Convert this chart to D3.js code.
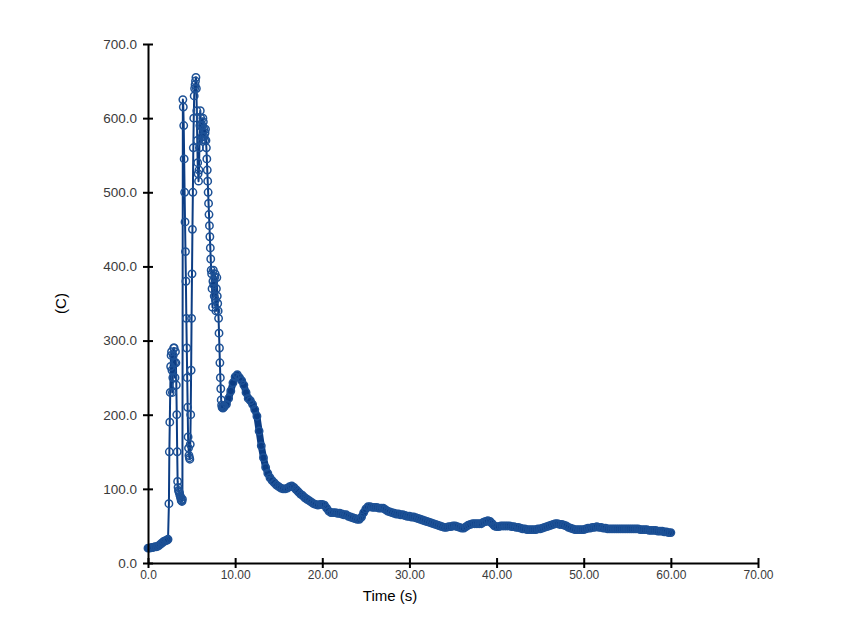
<!DOCTYPE html>
<html>
<head>
<meta charset="utf-8">
<script src="https://cdn.jsdelivr.net/npm/d3@7/dist/d3.min.js"></script>
<style>
  html, body { margin: 0; padding: 0; background: #ffffff; }
  svg { display: block; }
</style>
</head>
<body>
<svg id="chart" width="867" height="628"></svg>
<script>
// ---- Data (time in s, temperature in C) ----
const warmupReadings = [
  [0.0,20],[0.2,20],[0.4,21],[0.6,21],[0.8,22],[1.0,22],[1.2,23],[1.4,25],
  [1.6,27],[1.8,29],[2.0,30],[2.2,31],[2.3,32]
];
const flameReadings = [
  [2.4,80],[2.5,190],[2.6,265],[2.7,285],[2.8,230],[2.9,280],[3.0,290],[3.1,250],
  [3.2,270],[3.3,200],[3.4,110],[3.5,98],[3.6,95],[3.7,90],[3.8,85],[3.9,83],
  [4.0,625],[4.1,590],[4.2,500],[4.3,420],[4.4,330],[4.5,250],[4.6,170],[4.7,145],
  [4.8,140],[4.9,200],[5.0,330],[5.1,450],[5.2,560],[5.3,630],[5.4,645],[5.5,655],
  [5.6,610],[5.7,540],[5.8,515],[5.9,560],[6.0,610],[6.1,590],[6.2,575],[6.3,600],
  [6.4,585],[6.5,570],[6.6,585],[6.7,560],[6.8,530],[6.9,500],[7.0,470],[7.1,440],
  [7.2,410],[7.3,390],[7.4,345],[7.5,395],[7.6,360],[7.7,390],[7.8,340],[7.9,385],
  [8.0,350],[8.1,330],[8.2,290],[8.3,250],[8.4,220],[8.5,210],[8.6,209],[8.7,211]
];
const flameInterimReadings = [
  [2.45,150],[2.55,230],[2.65,280],[2.75,260],[2.85,250],[2.95,290],[3.05,270],[3.15,285],
  [3.25,240],[3.35,150],[3.45,102],[3.55,96],[3.65,92],[3.75,88],[3.85,84],[3.95,86],
  [4.05,615],[4.15,545],[4.25,460],[4.35,380],[4.45,290],[4.55,210],[4.65,155],[4.75,142],
  [4.85,160],[4.95,260],[5.05,390],[5.15,500],[5.25,600],[5.35,640],[5.45,650],[5.55,640],
  [5.65,570],[5.75,525],[5.85,530],[5.95,590],[6.05,600],[6.15,570],[6.25,590],[6.35,595],
  [6.45,575],[6.55,580],[6.65,570],[6.75,545],[6.85,515],[6.95,485],[7.05,455],[7.15,425],
  [7.25,395],[7.35,370],[7.45,380],[7.55,375],[7.65,385],[7.75,355],[7.85,370],[7.95,360],
  [8.05,340],[8.15,310],[8.25,270],[8.35,235],[8.45,213],[8.55,210],[8.65,210]
];
const decayReadings = [
  [8.75,211],[9.0,214],[9.25,222],[9.5,232],[9.75,243],[10.0,251],[10.25,254],[10.5,250],
  [10.75,246],[11.0,240],[11.25,230],[11.5,222],[11.75,219],[12.0,214],[12.25,207],[12.5,198],
  [12.75,178],[13.0,158],[13.25,142],[13.5,129],[13.75,121],[14.0,115],[14.25,111],[14.5,108],
  [14.75,105],[15.0,103],[15.25,101],[15.5,100],[15.75,100],[16.0,101],[16.25,103],[16.5,104],
  [16.75,102],[17.0,99],[17.25,96],[17.5,93],[17.75,91],[18.0,88],[18.25,86],[18.5,84],
  [18.75,82],[19.0,80],[19.25,79],[19.5,78],[19.75,79],[20.0,79],[20.25,78],[20.5,74],
  [20.75,70],[21.0,68],[21.25,68],[21.5,68],[21.75,67],[22.0,67],[22.25,66],[22.5,65],
  [22.75,65],[23.0,63],[23.25,62],[23.5,61],[23.75,60],[24.0,59],[24.25,59],[24.5,62],
  [24.75,68],[25.0,73],[25.25,76],[25.5,76],[25.75,75],[26.0,75],[26.25,75],[26.5,74],
  [26.75,74],[27.0,74],[27.25,72],[27.5,70],[27.75,69],[28.0,68],[28.25,67],[28.5,66],
  [28.75,66],[29.0,65],[29.25,65],[29.5,64],[29.75,63],[30.0,63],[30.25,62],[30.5,62],
  [30.75,61],[31.0,60],[31.25,59],[31.5,58],[31.75,57],[32.0,56],[32.25,55],[32.5,54],
  [32.75,53],[33.0,52],[33.25,51],[33.5,50],[33.75,49],[34.0,48],[34.25,48],[34.5,49],
  [34.75,49],[35.0,50],[35.25,50],[35.5,49],[35.75,48],[36.0,47],[36.25,47],[36.5,49],
  [36.75,51],[37.0,52],[37.25,53],[37.5,53],[37.75,53],[38.0,53],[38.25,53],[38.5,55],
  [38.75,56],[39.0,57],[39.25,56],[39.5,53],[39.75,50],[40.0,49],[40.25,49],[40.5,50],
  [40.75,50],[41.0,50],[41.25,50],[41.5,50],[41.75,49],[42.0,49],[42.25,48],[42.5,48],
  [42.75,47],[43.0,46],[43.25,46],[43.5,45],[43.75,45],[44.0,45],[44.25,45],[44.5,45],
  [44.75,46],[45.0,46],[45.25,47],[45.5,48],[45.75,49],[46.0,50],[46.25,51],[46.5,52],
  [46.75,53],[47.0,53],[47.25,52],[47.5,52],[47.75,51],[48.0,50],[48.25,48],[48.5,47],
  [48.75,46],[49.0,45],[49.25,45],[49.5,45],[49.75,45],[50.0,45],[50.25,46],[50.5,47],
  [50.75,47],[51.0,48],[51.25,48],[51.5,49],[51.75,48],[52.0,48],[52.25,47],[52.5,47],
  [52.75,46],[53.0,46],[53.25,46],[53.5,46],[53.75,46],[54.0,46],[54.25,46],[54.5,46],
  [54.75,46],[55.0,46],[55.25,46],[55.5,46],[55.75,46],[56.0,46],[56.25,46],[56.5,45],
  [56.75,45],[57.0,45],[57.25,45],[57.5,44],[57.75,44],[58.0,44],[58.25,44],[58.5,43],
  [58.75,43],[59.0,43],[59.25,42],[59.5,42],[59.75,41],[60.0,41]
];
const xTickValues = [0, 10, 20, 30, 40, 50, 60, 70];
const xTickLabels = ["0.0", "10.00", "20.00", "30.00", "40.00", "50.00", "60.00", "70.00"];
const yTickValues = [0, 100, 200, 300, 400, 500, 600, 700];
const yTickLabels = ["0.0", "100.0", "200.0", "300.0", "400.0", "500.0", "600.0", "700.0"];
const xTitle = "Time (s)";
const yTitle = "(C)";

const readings = d3.sort(
  warmupReadings.concat(flameReadings, flameInterimReadings, decayReadings),
  d => d[0]
);

// ---- Layout ----
const svg = d3.select("#chart");
const plot = { left: 148, right: 758, top: 44, bottom: 563 };

const x = d3.scaleLinear().domain([0, 70]).range([plot.left, plot.right]);
const y = d3.scaleLinear().domain([0, 700]).range([plot.bottom, plot.top]);

const font = "'Liberation Sans', Arial, sans-serif";
const lineBlue = "#0c3d84";
const markerBlue = "#1d5196";

// ---- Series ----
const lineGen = d3.line().x(d => x(d[0])).y(d => y(d[1]));

// densely sampled stretches render as a solid band in the reference
[warmupReadings, decayReadings].forEach(seg => {
  svg.append("path")
    .datum(seg)
    .attr("fill", "none")
    .attr("stroke", lineBlue)
    .attr("stroke-width", 7)
    .attr("stroke-linejoin", "round")
    .attr("stroke-linecap", "round")
    .attr("d", lineGen);
});

svg.append("path")
  .datum(readings)
  .attr("fill", "none")
  .attr("stroke", lineBlue)
  .attr("stroke-width", 2)
  .attr("stroke-linejoin", "round")
  .attr("d", lineGen);

svg.append("g")
  .selectAll("circle")
  .data(readings)
  .join("circle")
  .attr("cx", d => x(d[0]))
  .attr("cy", d => y(d[1]))
  .attr("r", 3.7)
  .attr("fill", "none")
  .attr("stroke", markerBlue)
  .attr("stroke-width", 1.5);

// ---- Axes ----
const xAxis = d3.axisBottom(x)
  .tickValues(xTickValues)
  .tickFormat((d, i) => xTickLabels[i])
  .tickSizeInner(5)
  .tickSizeOuter(0)
  .tickPadding(2);

const yAxis = d3.axisLeft(y)
  .tickValues(yTickValues)
  .tickFormat((d, i) => yTickLabels[i])
  .tickSizeInner(5)
  .tickSizeOuter(0)
  .tickPadding(6);

const gx = svg.append("g")
  .attr("transform", `translate(0,${plot.bottom})`)
  .call(xAxis);
gx.select(".domain").attr("stroke", "#000").attr("stroke-width", 2);
gx.selectAll(".tick line").attr("stroke", "#000").attr("stroke-width", 2)
  .attr("y1", -5).attr("y2", 5);
gx.selectAll(".tick text")
  .attr("font-family", font).attr("font-size", 12).attr("fill", "#3a3a3a");

const gy = svg.append("g")
  .attr("transform", `translate(${plot.left},0)`)
  .call(yAxis);
gy.select(".domain").attr("stroke", "#000").attr("stroke-width", 2);
gy.selectAll(".tick line").attr("stroke", "#000").attr("stroke-width", 2)
  .attr("x1", -5).attr("x2", 5);
gy.selectAll(".tick text")
  .attr("font-family", font).attr("font-size", 13.5).attr("fill", "#3a3a3a");

// ---- Titles ----
svg.append("text")
  .attr("x", 390)
  .attr("y", 601)
  .attr("text-anchor", "middle")
  .attr("font-family", font)
  .attr("font-size", 15)
  .attr("fill", "#000")
  .text(xTitle);

svg.append("text")
  .attr("transform", `translate(66,${(plot.top + plot.bottom) / 2}) rotate(-90)`)
  .attr("text-anchor", "middle")
  .attr("font-family", font)
  .attr("font-size", 15)
  .attr("fill", "#000")
  .text(yTitle);
</script>
</body>
</html>
